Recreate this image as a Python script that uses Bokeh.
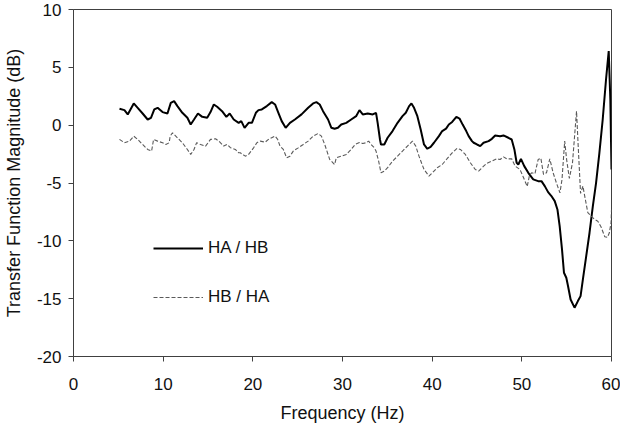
from bokeh.plotting import figure
from bokeh.models import Range1d, FixedTicker, Legend, LegendItem
from bokeh.embed import file_html
from bokeh.resources import INLINE

# ---- data ----
freq_ab = [5.13, 5.68, 6.05, 6.72, 7.16, 7.71, 8.27, 8.64, 9.01, 9.38, 9.93, 10.48, 10.85, 11.22,
           11.59, 12.14, 12.70, 13.07, 13.44, 13.88, 14.36, 14.91, 15.28, 15.65, 16.02, 16.57,
           17.05, 17.42, 17.87, 18.42, 18.71, 19.08, 19.53, 19.90, 20.34, 20.63, 21.00, 21.56,
           22.11, 22.48, 22.85, 23.22, 23.66, 24.14, 24.69, 25.43, 26.17, 26.72, 27.09, 27.46,
           27.83, 28.39, 28.76, 29.12, 29.49, 29.86, 30.42, 30.97, 31.52, 31.89, 32.26, 32.81,
           33.37, 33.74, 33.92, 34.18, 34.29, 34.66, 35.03, 35.58, 36.14, 36.69, 37.06, 37.43,
           37.69, 37.98, 38.35, 38.72, 39.09, 39.46, 39.83, 40.20, 40.75, 41.12, 41.55, 41.86,
           42.23, 42.70, 43.05, 43.40, 43.80, 44.07, 44.44, 44.63, 45.00, 45.36, 45.73, 46.29,
           46.66, 47.03, 47.58, 47.95, 48.50, 48.87, 49.17, 49.42, 49.61, 49.90, 50.27, 50.72,
           51.27, 51.82, 52.19, 52.56, 52.93, 53.30, 53.67, 53.97, 54.22, 54.48, 54.70, 54.96,
           55.15, 55.44, 55.88, 56.25, 56.55, 56.81, 57.18, 57.55, 57.92, 58.28, 58.65, 59.02,
           59.39, 59.69, 59.87, 60.00]
mag_ab = [1.42, 1.30, 0.93, 1.88, 1.50, 1.01, 0.49, 0.64, 1.36, 1.50, 1.13, 1.01, 1.93, 2.08,
          1.65, 1.07, 0.64, 0.06, 0.49, 1.01, 0.72, 0.64, 1.13, 1.79, 1.59, 1.21,
          0.72, 1.01, 0.49, 0.20, 0.35, -0.23, 0.20, 0.20, 1.07, 1.30, 1.36, 1.65,
          1.99, 1.79, 1.07, 0.35, -0.23, 0.20, 0.49, 0.93, 1.50, 1.88, 1.99, 1.79,
          1.21, 0.49, -0.23, -0.31, -0.23, 0.06, 0.20, 0.49, 0.78, 1.30, 0.93, 1.01,
          0.93, 1.07, 0.20, -1.24, -1.67, -1.67, -1.09, -0.51, 0.20, 0.78, 1.07, 1.65,
          1.88, 1.50, 0.78, -0.37, -1.67, -2.04, -1.87, -1.52, -0.95, -0.51, -0.30, 0.06,
          0.28, 0.72, 0.57, 0.05, -0.51, -0.95, -1.38, -1.52, -1.67, -1.81, -1.52, -1.38,
          -1.18, -0.89, -0.95, -0.89, -1.09, -1.24, -2.10, -3.25, -3.40, -2.91, -3.54, -4.12,
          -4.69, -4.84, -4.84, -5.27, -5.79, -6.13, -6.57, -7.29, -8.73, -10.74, -12.76, -13.19,
          -13.91, -15.07, -15.78, -15.21, -14.78, -13.34, -11.32, -9.30, -7.00, -4.98, -2.39, 0.49,
          3.95, 6.40, 2.22, -3.83]

freq_ba = [5.13, 5.68, 6.24, 6.72, 7.16, 7.71, 8.27, 8.71, 8.93, 9.38, 9.93, 10.30, 10.67, 10.78,
           11.04, 11.59, 12.14, 12.70, 13.07, 13.44, 13.73, 14.17, 14.73, 15.28, 15.84, 16.21,
           16.76, 17.13, 17.50, 18.05, 18.42, 18.60, 19.16, 19.53, 20.08, 20.45, 20.82, 21.37,
           21.74, 22.11, 22.48, 22.77, 23.03, 23.40, 23.77, 24.14, 24.51, 25.06, 25.62, 26.17,
           26.72, 27.28, 27.65, 28.02, 28.57, 29.12, 29.31, 29.86, 30.42, 30.97, 31.41, 31.89,
           32.26, 32.63, 32.92, 33.18, 33.55, 33.74, 34.03, 34.29, 34.66, 35.03, 35.58, 36.14,
           36.69, 37.24, 37.80, 38.17, 38.53, 39.09, 39.64, 40.01, 40.57, 41.12, 41.67, 42.23,
           42.78, 43.15, 43.70, 44.26, 44.81, 45.18, 45.74, 46.10, 46.66, 47.21, 47.58, 47.95,
           48.32, 48.87, 49.25, 49.79, 50.17, 50.60, 50.85, 51.09, 51.46, 51.82, 52.12, 52.42,
           52.75, 53.12, 53.49, 53.86, 54.25, 54.48, 54.78, 55.00, 55.30, 55.65, 56.10, 56.25,
           56.55, 56.81, 57.03, 57.36, 57.73, 58.10, 58.47, 58.84, 59.25, 59.55, 59.76, 59.95,
           60.00]
mag_ba = [-1.23, -1.52, -1.38, -0.95, -1.23, -1.67, -2.10, -2.24, -1.23, -1.38, -1.52, -1.67, -1.52, -0.95,
          -0.66, -1.09, -1.52, -2.10, -2.53, -2.10, -1.52, -1.67, -1.81, -1.23, -1.18, -1.38,
          -1.81, -1.67, -1.95, -2.10, -2.39, -2.39, -2.68, -2.53, -1.96, -1.52, -1.38, -1.47,
          -1.23, -1.09, -0.95, -1.23, -1.81, -2.10, -2.82, -2.68, -2.24, -1.96, -1.67, -1.38,
          -0.95, -0.72, -0.95, -1.67, -2.96, -3.40, -2.82, -2.68, -2.53, -2.10, -1.67, -1.50,
          -1.58, -1.52, -1.38, -1.67, -1.96, -2.24, -3.11, -4.12, -3.97, -3.68, -3.11, -2.68,
          -2.24, -1.81, -1.38, -1.81, -2.68, -3.83, -4.40, -4.12, -3.68, -3.40, -2.90, -2.40,
          -2.00, -2.10, -2.53, -3.25, -3.83, -3.97, -3.54, -3.30, -3.11, -2.91, -2.97, -2.74,
          -2.91, -2.91, -3.54, -3.83, -4.50, -5.30, -4.35, -4.12, -4.20, -2.97, -2.85, -4.26,
          -4.12, -2.91, -4.12, -5.00, -5.85, -4.69, -1.38, -3.00, -4.60, -3.25, 1.21, -1.24,
          -5.90, -5.27, -6.20, -7.57, -7.86, -8.15, -8.30, -8.80, -9.65, -9.70, -9.30, -8.44,
          -7.29]

x_ticks = [0, 10, 20, 30, 40, 50, 60]
y_ticks = [-20, -15, -10, -5, 0, 5, 10]
series_labels = ["HA / HB", "HB / HA"]
x_title = "Frequency (Hz)"
y_title = "Transfer Function Magnitude (dB)"

FONT = "Liberation Sans"

p = figure(width=620, height=428, output_backend="svg", toolbar_location=None,
           x_range=Range1d(0, 60), y_range=Range1d(-20, 10),
           min_border_left=69, min_border_right=9, min_border_top=9, min_border_bottom=72)

p.background_fill_color = "white"
p.border_fill_color = "white"
p.outline_line_color = "#404040"
p.outline_line_width = 1
p.xgrid.visible = False
p.ygrid.visible = False

r1 = p.line(freq_ab, mag_ab, line_color="black", line_width=2)
r2 = p.line(freq_ba, mag_ba, line_color="#5a5a5a", line_width=1.1, line_dash="4 2")

for ax, ticks in ((p.xaxis[0], x_ticks), (p.yaxis[0], y_ticks)):
    ax.ticker = FixedTicker(ticks=ticks)
    ax.major_label_overrides = {t: str(t) for t in ticks}
    ax.minor_tick_line_color = None
    ax.major_tick_in = 0
    ax.major_tick_out = 5
    ax.axis_line_color = "#404040"
    ax.major_tick_line_color = "#404040"
    ax.major_label_text_font = FONT
    ax.major_label_text_font_size = "17px"
    ax.major_label_text_color = "#111111"
    ax.axis_label_text_font = FONT
    ax.axis_label_text_font_size = "18px"
    ax.axis_label_text_font_style = "normal"
    ax.axis_label_text_color = "#111111"

p.xaxis.axis_label = x_title
p.yaxis.axis_label = y_title
p.xaxis.major_label_standoff = 16
p.xaxis.axis_label_standoff = 10
p.yaxis.major_label_standoff = 7
p.yaxis.axis_label_standoff = 10

legend = Legend(items=[LegendItem(label=series_labels[0], renderers=[r1]),
                       LegendItem(label=series_labels[1], renderers=[r2])],
                location=(80, 49), orientation="vertical",
                glyph_width=50, glyph_height=20, label_height=20, spacing=29,
                padding=0, margin=0, label_standoff=5,
                label_text_font=FONT, label_text_font_size="17px", label_text_color="#111111",
                border_line_color=None, background_fill_alpha=0)
p.add_layout(legend)

open("out.html", "w").write(file_html(p, INLINE))
